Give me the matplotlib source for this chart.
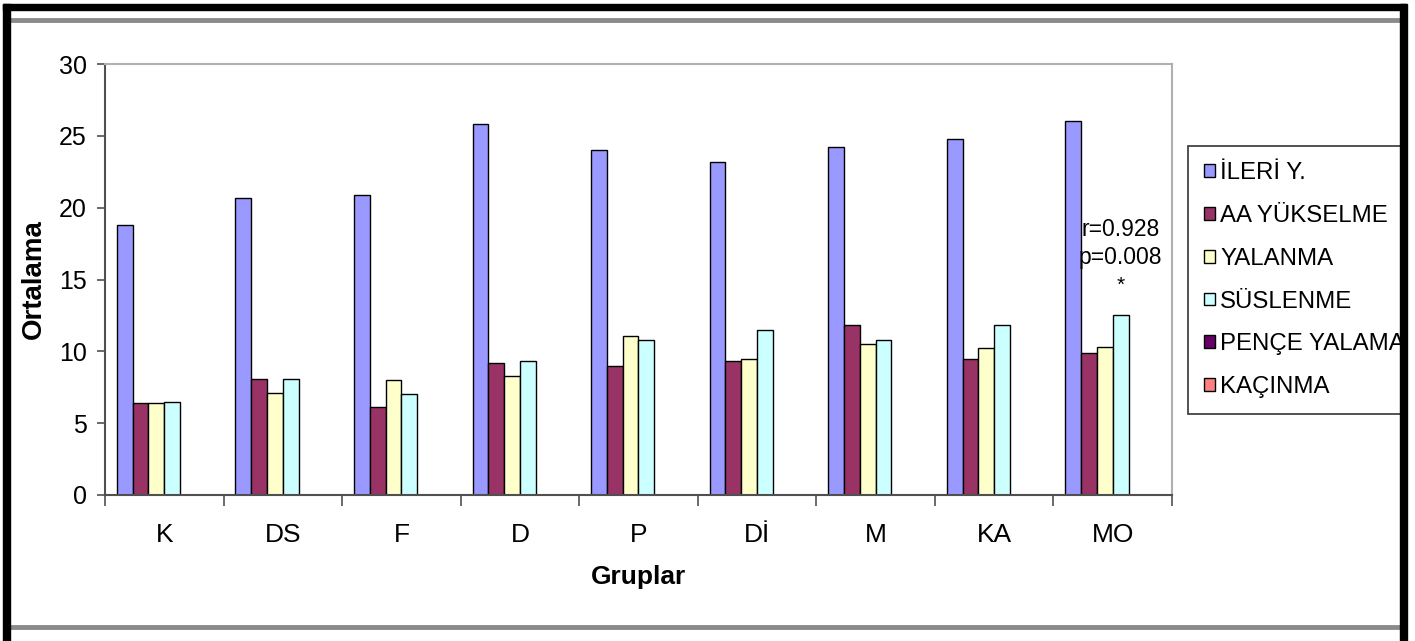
import matplotlib
matplotlib.use("Agg")
import matplotlib.pyplot as plt
from matplotlib.patches import Rectangle
from matplotlib.lines import Line2D
import numpy as np

plt.rcParams['font.family'] = ['Liberation Sans', 'DejaVu Sans']
NARROW = ['Liberation Sans Narrow', 'Liberation Sans', 'DejaVu Sans']

groups = ["K", "DS", "F", "D", "P", "Dİ", "M", "KA", "MO"]
series_names = ["İLERİ Y.", "AA YÜKSELME", "YALANMA", "SÜSLENME", "PENÇE YALAMA", "KAÇINMA"]
ileri_y = [18.8, 20.7, 20.9, 25.8, 24.0, 23.2, 24.2, 24.8, 26.0]
aa_yukselme = [6.4, 8.1, 6.1, 9.2, 9.0, 9.3, 11.8, 9.5, 9.9]
yalanma = [6.4, 7.1, 8.0, 8.3, 11.1, 9.5, 10.5, 10.2, 10.3]
suslenme = [6.5, 8.1, 7.0, 9.3, 10.8, 11.5, 10.8, 11.8, 12.5]
pence_yalama = [0, 0, 0, 0, 0, 0, 0, 0, 0]
kacinma = [0, 0, 0, 0, 0, 0, 0, 0, 0]
colors = ["#9999FF", "#993366", "#FFFFCC", "#CCFFFF", "#660066", "#FF8080"]
yticks = [0, 5, 10, 15, 20, 25, 30]

W, H = 1415, 641
fig = plt.figure(figsize=(W / 100, H / 100), dpi=100)
fig.patch.set_facecolor("white")

def fx(px):
    return px / W

def fy(py):
    return 1 - py / H

ax = fig.add_axes([fx(105), fy(495), fx(1172) - fx(105), fy(64) - fy(495)])

data = [ileri_y, aa_yukselme, yalanma, suslenme, pence_yalama, kacinma]
n = len(data)
w = 1.0 / (n + 1.5)
x = np.arange(len(groups))
handles = []
for j, (vals, name, c) in enumerate(zip(data, series_names, colors)):
    b = ax.bar(x + (j - (n - 1) / 2) * w, vals, width=w, color=c,
               edgecolor="black", linewidth=1.0, label=name, zorder=3)
    handles.append(b)

ax.set_xlim(-0.5, len(groups) - 0.5)
ax.set_ylim(0, 30)
ax.set_yticks(yticks)
ax.set_yticklabels([str(t) for t in yticks], fontsize=18, color="black")
ax.tick_params(axis="y", direction="out", length=6, width=1.2, color="#505050", pad=7)

ax.set_xticks(x)
ax.set_xticklabels(groups)
for lab in ax.get_xticklabels():
    lab.set_family(NARROW)
    lab.set_fontsize(19)
ax.tick_params(axis="x", which="major", length=0, pad=20)
ax.set_xticks(np.arange(len(groups) + 1) - 0.5, minor=True)
ax.tick_params(axis="x", which="minor", direction="out", length=8, width=1.2, color="#505050")

for s in ["left", "bottom"]:
    ax.spines[s].set_color("#505050")
    ax.spines[s].set_linewidth(1.5)
for s in ["top", "right"]:
    ax.spines[s].set_color("#b0b0b0")
    ax.spines[s].set_linewidth(1.5)
ax.spines["bottom"].set_zorder(5)

ax.set_ylabel("Ortalama", fontsize=20, fontweight="bold", labelpad=9)
ax.set_xlabel("Gruplar", fontsize=19, fontweight="bold", labelpad=13)

# annotation over MO / SÜSLENME
xa = x[-1] + (3 - (n - 1) / 2) * w
ax.text(xa, 18.5, "r=0.928", ha="center", va="center", fontsize=16.5, family=NARROW)
ax.text(xa, 16.55, "p=0.008", ha="center", va="center", fontsize=16.5, family=NARROW)
ax.text(xa, 14.6, "*", ha="center", va="center", fontsize=15, family=NARROW)

leg = ax.legend(handles=handles, loc="upper left",
                bbox_to_anchor=(fx(1188), fy(146)), bbox_transform=fig.transFigure,
                borderaxespad=0, frameon=True, fancybox=False,
                prop={"family": NARROW, "size": 17.3},
                handlelength=0.48, handleheight=0.45, handletextpad=0.2,
                labelspacing=0.87, borderpad=0.66)
leg.get_frame().set_edgecolor("black")
leg.get_frame().set_linewidth(1.2)
for t in leg.get_texts():
    t.set_color("black")

# decorative frame like the page it came from
fig.add_artist(Line2D([fx(10), fx(1400)], [fy(19.5), fy(19.5)], color="#8a8a8a", linewidth=3.5, zorder=10))
fig.add_artist(Line2D([fx(10), fx(1400)], [fy(627), fy(627)], color="#8a8a8a", linewidth=3.5, zorder=10))
fig.add_artist(Rectangle((fx(1406), 0), fx(9), 1, transform=fig.transFigure, color="white", zorder=19))
fig.add_artist(Rectangle((fx(3), 0), fx(7), fy(4), transform=fig.transFigure, color="black", zorder=20))
fig.add_artist(Rectangle((fx(3), fy(10)), fx(1403), fy(4) - fy(10), transform=fig.transFigure, color="black", zorder=20))
fig.add_artist(Rectangle((fx(1400), 0), fx(6.5), fy(4), transform=fig.transFigure, color="black", zorder=20))

fig.savefig("out.png", dpi=100, facecolor="white")
